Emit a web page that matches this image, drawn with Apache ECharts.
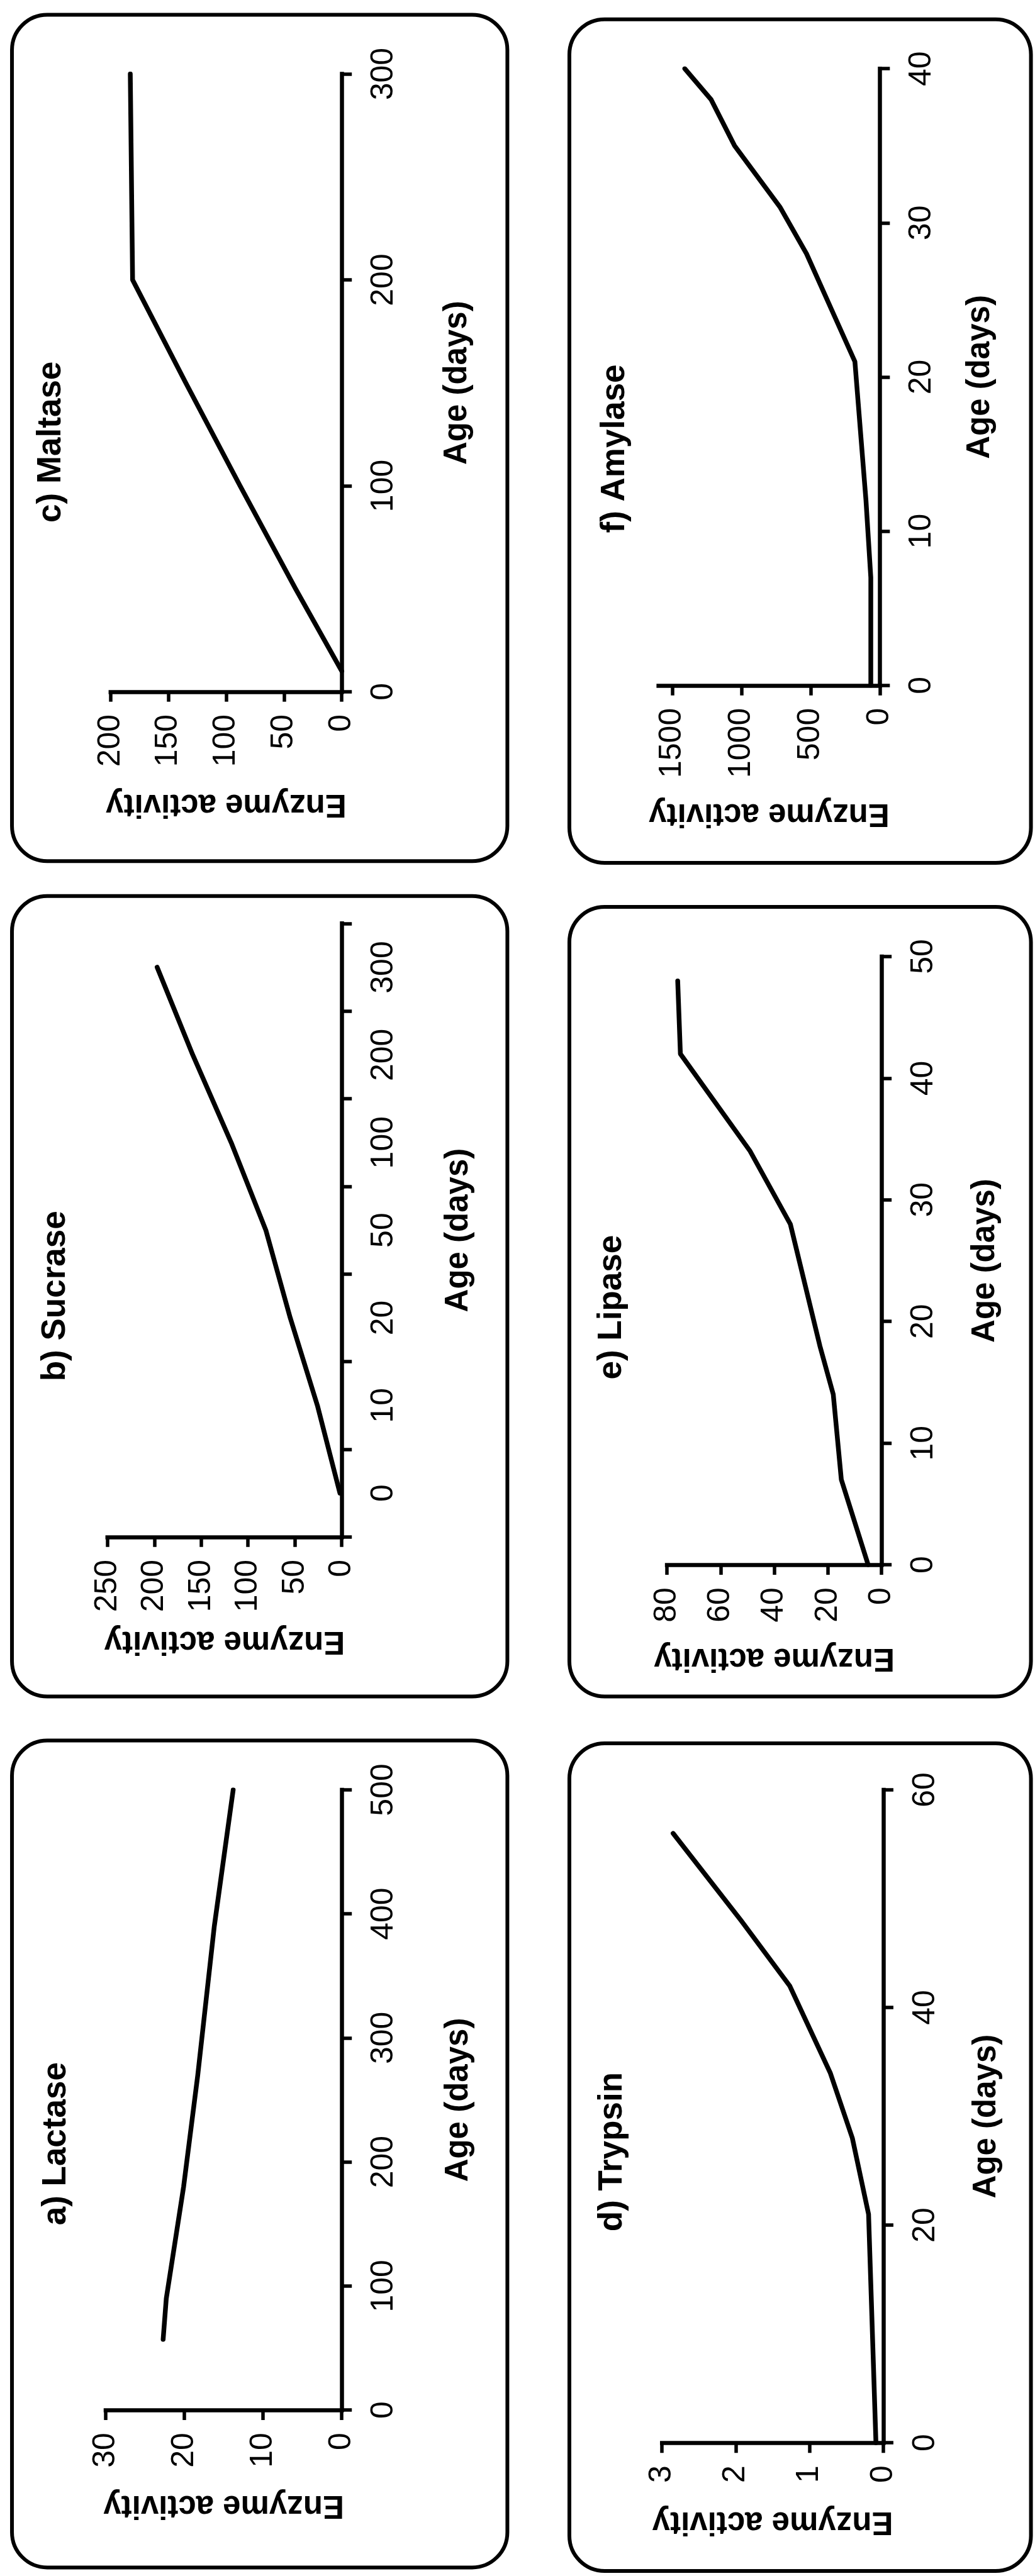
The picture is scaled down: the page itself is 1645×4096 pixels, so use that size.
<!DOCTYPE html>
<html>
<head>
<meta charset="utf-8">
<script src="https://cdn.jsdelivr.net/npm/echarts@6/dist/echarts.min.js"></script>
<style>
html,body{margin:0;padding:0;background:#ffffff;}
#chart{width:1645px;height:4096px;}
</style>
</head>
<body>
<div id="chart"></div>
<script>
// ---------------- DATA ----------------
const maltaseAge = [10, 50, 100, 150, 200, 300];
const maltaseActivity = [0, 40, 88, 135, 181, 183];

const sucraseAgeLabels = ['0', '10', '20', '50', '100', '200', '300'];
const sucraseActivity = [2, 26, 55, 81, 118, 159, 197];

const lactaseAge = [57, 90, 180, 270, 390, 500];
const lactaseActivity = [22.7, 22.3, 20.1, 18.3, 16.2, 13.8];

const amylaseAge = [0, 7, 12, 21, 24, 28, 31, 35, 38, 40];
const amylaseActivity = [65, 65, 100, 180, 330, 530, 720, 1050, 1220, 1410];

const lipaseAge = [0, 7, 14, 18, 28, 34, 42, 48];
const lipaseActivity = [5, 15, 18, 23, 34, 49, 75, 76];

const trypsinAge = [0, 21, 28, 34, 42, 48, 56];
const trypsinActivity = [0.1, 0.2, 0.42, 0.72, 1.27, 1.93, 2.85];

const amylaseActivityTicks = [0, 500, 1000, 1500];

const titles = ['c) Maltase', 'b) Sucrase', 'a) Lactase', 'f) Amylase', 'e) Lipase', 'd) Trypsin'];
const ageName = 'Age (days)';
const activityName = 'Enzyme activity';

// ---------------- LAYOUT (reference pixels, scaled by S) ----------------
const S = 0.56;
const FONT = '"Liberation Sans", Arial, Helvetica, sans-serif';
const panels = [
  { box: [34, 42, 1440, 2445],   grid: [314, 210, 970, 1964],   title: [146, 1255],
    actMax: 200, actInt: 50, age: { min: 0, max: 300, interval: 100 }, actGap: 272, ageGap: 282,
    series: maltaseAge.map((a, i) => [maltaseActivity[i], a]) },
  { box: [34, 2544, 1440, 4817], grid: [305, 2622, 970, 4364],  title: [157, 3680],
    actMax: 250, actInt: 50, age: { cats: sucraseAgeLabels }, actGap: 250, ageGap: 286,
    series: sucraseAgeLabels.map((c, i) => [sucraseActivity[i], c]) },
  { box: [34, 4942, 1440, 7290], grid: [300, 5082, 970, 6843],  title: [160, 6087],
    actMax: 30, actInt: 10, age: { min: 0, max: 500, interval: 100 }, actGap: 224, ageGap: 286,
    series: lactaseAge.map((a, i) => [lactaseActivity[i], a]) },
  { box: [1616, 55, 2926, 2450], grid: [1869, 195, 2497, 1946], title: [1745, 1274],
    actMax: 1600, actInt: 500, actTicks: amylaseActivityTicks, age: { min: 0, max: 40, interval: 10 }, actGap: 317, ageGap: 239,
    series: amylaseAge.map((a, i) => [amylaseActivity[i], a]) },
  { box: [1616, 2575, 2926, 4817], grid: [1893, 2716, 2502, 4443], title: [1737, 3712],
    actMax: 80, actInt: 20, age: { min: 0, max: 50, interval: 10 }, actGap: 218, ageGap: 248,
    series: lipaseAge.map((a, i) => [lipaseActivity[i], a]) },
  { box: [1616, 4950, 2926, 7300], grid: [1879, 5082, 2507, 6936], title: [1739, 6110],
    actMax: 3, actInt: 1, age: { min: 0, max: 60, interval: 20 }, actGap: 178, ageGap: 248,
    series: trypsinAge.map((a, i) => [trypsinActivity[i], a]) }
];

const AXIS_W = 6.5, TICK_W = 5.5, TICK_LEN = 16, LINE_W = 7.5, BOX_W = 6;
const TICK_FS = 50, NAME_FS = 51, TITLE_FS = 53;

const grids = [], xAxes = [], yAxes = [], series = [], graphics = [];
const plainNumber = v => String(v);

panels.forEach((p, i) => {
  const [gl, gt, gr, gb] = p.grid;
  grids.push({
    left: gl * S, top: gt * S, width: (gr - gl) * S, height: (gb - gt) * S,
    containLabel: false, outerBoundsMode: 'none'
  });

  const xa = {
    gridIndex: i, type: 'value', inverse: true, position: 'bottom',
    min: 0, max: p.actMax, interval: p.actInt,
    axisLine: { show: true, onZero: false, lineStyle: { color: '#000', width: AXIS_W, cap: 'square' } },
    axisTick: { show: true, inside: false, length: TICK_LEN, lineStyle: { color: '#000', width: TICK_W } },
    axisLabel: { rotate: 90, margin: 36, fontSize: TICK_FS, fontFamily: FONT, color: '#000', formatter: plainNumber },
    splitLine: { show: false },
    name: activityName, nameLocation: 'middle', nameRotate: 180, nameGap: p.actGap * S,
    nameTextStyle: { fontSize: NAME_FS, fontWeight: 'bold', fontFamily: FONT, color: '#000' }
  };
  if (p.actTicks) {
    xa.axisTick.customValues = p.actTicks;
    xa.axisLabel.customValues = p.actTicks;
  }
  xAxes.push(xa);

  const ya = {
    gridIndex: i, position: 'right',
    axisLine: { show: true, onZero: false, lineStyle: { color: '#000', width: AXIS_W, cap: 'square' } },
    axisTick: { show: true, inside: false, length: TICK_LEN, lineStyle: { color: '#000', width: TICK_W } },
    axisLabel: { rotate: 90, margin: 42, fontSize: TICK_FS, fontFamily: FONT, color: '#000' },
    splitLine: { show: false },
    name: ageName, nameLocation: 'middle', nameRotate: 90, nameGap: p.ageGap * S,
    nameTextStyle: { fontSize: NAME_FS, fontWeight: 'bold', fontFamily: FONT, color: '#000' }
  };
  if (p.age.cats) {
    ya.type = 'category';
    ya.data = p.age.cats;
    ya.boundaryGap = true;
    ya.axisLabel.interval = 0;
    ya.axisTick.interval = 0;
  } else {
    ya.type = 'value';
    ya.min = p.age.min; ya.max = p.age.max; ya.interval = p.age.interval;
    ya.axisLabel.formatter = plainNumber;
  }
  yAxes.push(ya);

  series.push({
    type: 'line', xAxisIndex: i, yAxisIndex: i, data: p.series,
    symbol: 'none', silent: true, z: 3,
    lineStyle: { color: '#000', width: LINE_W, cap: 'round', join: 'round' }
  });

  const [bl, bt, br, bb] = p.box;
  graphics.push({
    type: 'rect', silent: true, z: -10,
    shape: { x: bl * S, y: bt * S, width: (br - bl) * S, height: (bb - bt) * S, r: 56 },
    style: { fill: 'none', stroke: '#000', lineWidth: BOX_W }
  });
  graphics.push({
    type: 'text', silent: true,
    x: p.title[0] * S, y: p.title[1] * S, rotation: Math.PI / 2,
    style: {
      text: titles[i], fill: '#000',
      font: 'bold ' + TITLE_FS + 'px ' + FONT,
      align: 'center', verticalAlign: 'middle'
    }
  });
});

const chart = echarts.init(document.getElementById('chart'), null, { renderer: 'canvas', width: 1645, height: 4096 });
chart.setOption({
  backgroundColor: '#ffffff',
  animation: false,
  grid: grids,
  xAxis: xAxes,
  yAxis: yAxes,
  series: series,
  graphic: { elements: graphics }
});
</script>
</body>
</html>
